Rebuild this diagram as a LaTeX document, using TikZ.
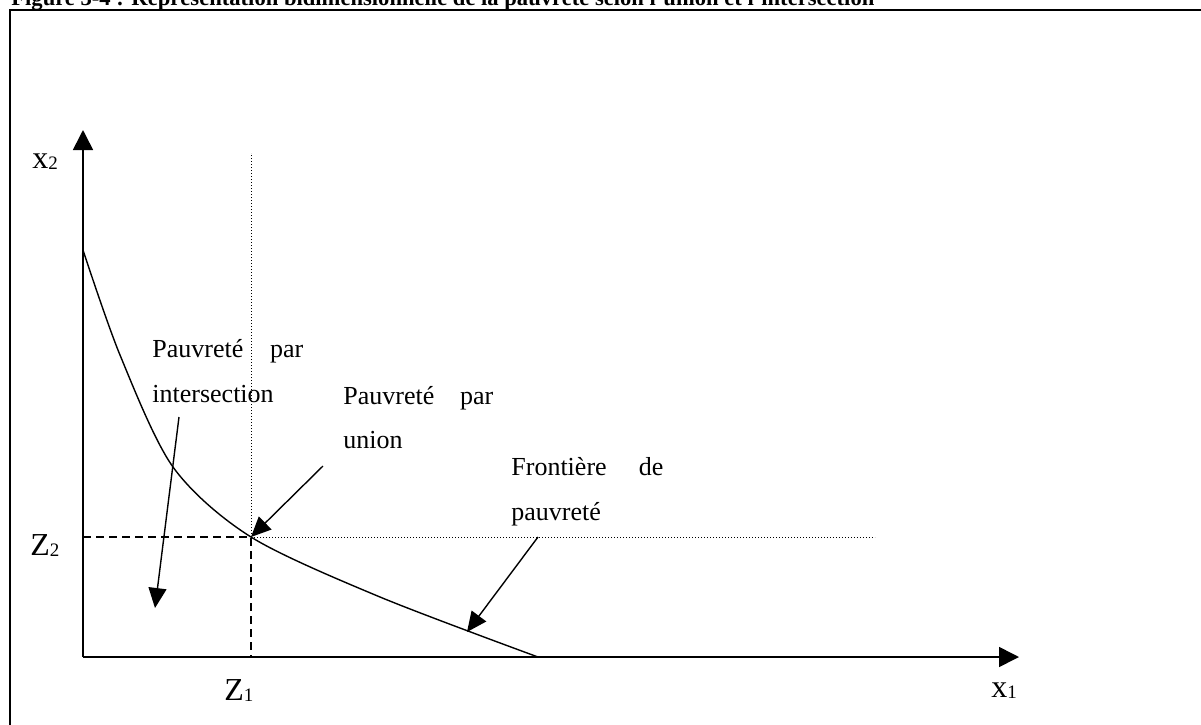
\documentclass[tikz,border=0pt]{standalone}
\usepackage{fontspec}
\setmainfont{Liberation Serif}
\usetikzlibrary{arrows.meta}
\tikzset{
  axe/.style={line width=0.8pt,-{Triangle[length=10pt,width=10pt]}},
  fleche/.style={line width=0.7pt,-{Triangle[length=10pt,width=9pt]}},
  tirets/.style={line width=0.6pt,dash pattern=on 4pt off 2.5pt},
  pointille/.style={line width=0.5pt,dash pattern=on 0.6pt off 0.9pt},
  etiq/.style={inner sep=0pt,anchor=base west,font=\fontsize{13}{13}\selectfont},
  axlbl/.style={inner sep=0pt,anchor=base west,font=\fontsize{16}{16}\selectfont},
}
\newcommand{\indice}[1]{\raisebox{-0.5pt}{\fontsize{9.5}{9.5}\selectfont #1}}
\begin{document}
\begin{tikzpicture}[x=0.5pt,y=-0.5pt]
    \useasboundingbox (0,0) rectangle (1201,724);
    % titre (coupe en haut) et cadre
    \node[anchor=base west,inner sep=0pt,font=\bfseries\fontsize{11.3}{11.3}\selectfont] (titre) at (11,5)
        {Figure 3-4 : Représentation bidimensionnelle de la pauvreté selon l'union et l'intersection};
    \draw [line width=1pt] (10,760) -- (10,9.5) -- (1230,9.5);

    \coordinate (O) at (83,657);
    \coordinate (ytop) at (83,130);
    \coordinate (xend) at (1019,657);
    \draw [axe] (O) -- (ytop);
    \draw [axe] (O) -- (xend);

    \coordinate (Z) at (251,537);
    \coordinate (Z1) at (251,657);
    \coordinate (Z2) at (83,537);
    \coordinate (Ztop) at (251,153);
    \coordinate (Zright) at (875,537);
    \draw [tirets] (Z2) -- (Z) -- (Z1);
    \draw [pointille] (Z) -- (Ztop);
    \draw [pointille] (Z) -- (Zright);

    % frontiere
    \draw [line width=0.7pt] plot [smooth] coordinates {(83,250) (120,355) (173,467) (251,537) (380,597) (538,657)};

    \node[etiq] (pi1) at (152,357) {\makebox[75.5pt][s]{Pauvreté par}};
    \node[etiq] (pi2) at (152,402) {intersection};
    \node[etiq] (pu1) at (343,404) {\makebox[75pt][s]{Pauvreté par}};
    \node[etiq] (pu2) at (343,448) {union};
    \node[etiq] (pf1) at (511,475) {\makebox[76pt][s]{Frontière de}};
    \node[etiq] (pf2) at (511,520) {pauvreté};

    \coordinate (ai) at (179,417);
    \coordinate (bi) at (155,608);
    \coordinate (au) at (323,466);
    \coordinate (af) at (538,537);
    \coordinate (bf) at (467,632);
    \draw [fleche] (ai) -- (bi);
    \draw [fleche] (au) -- (Z);
    \draw [fleche] (af) -- (bf);

    \node[axlbl] (lx2) at (32,168) {x\indice{2}};
    \node[axlbl] (lz2) at (30,555) {Z\indice{2}};
    \node[axlbl] (lz1) at (224,700) {Z\indice{1}};
    \node[axlbl] (lx1) at (991,697) {x\indice{1}};
    % \draw (Z) circle (3);
\end{tikzpicture}
\end{document}
